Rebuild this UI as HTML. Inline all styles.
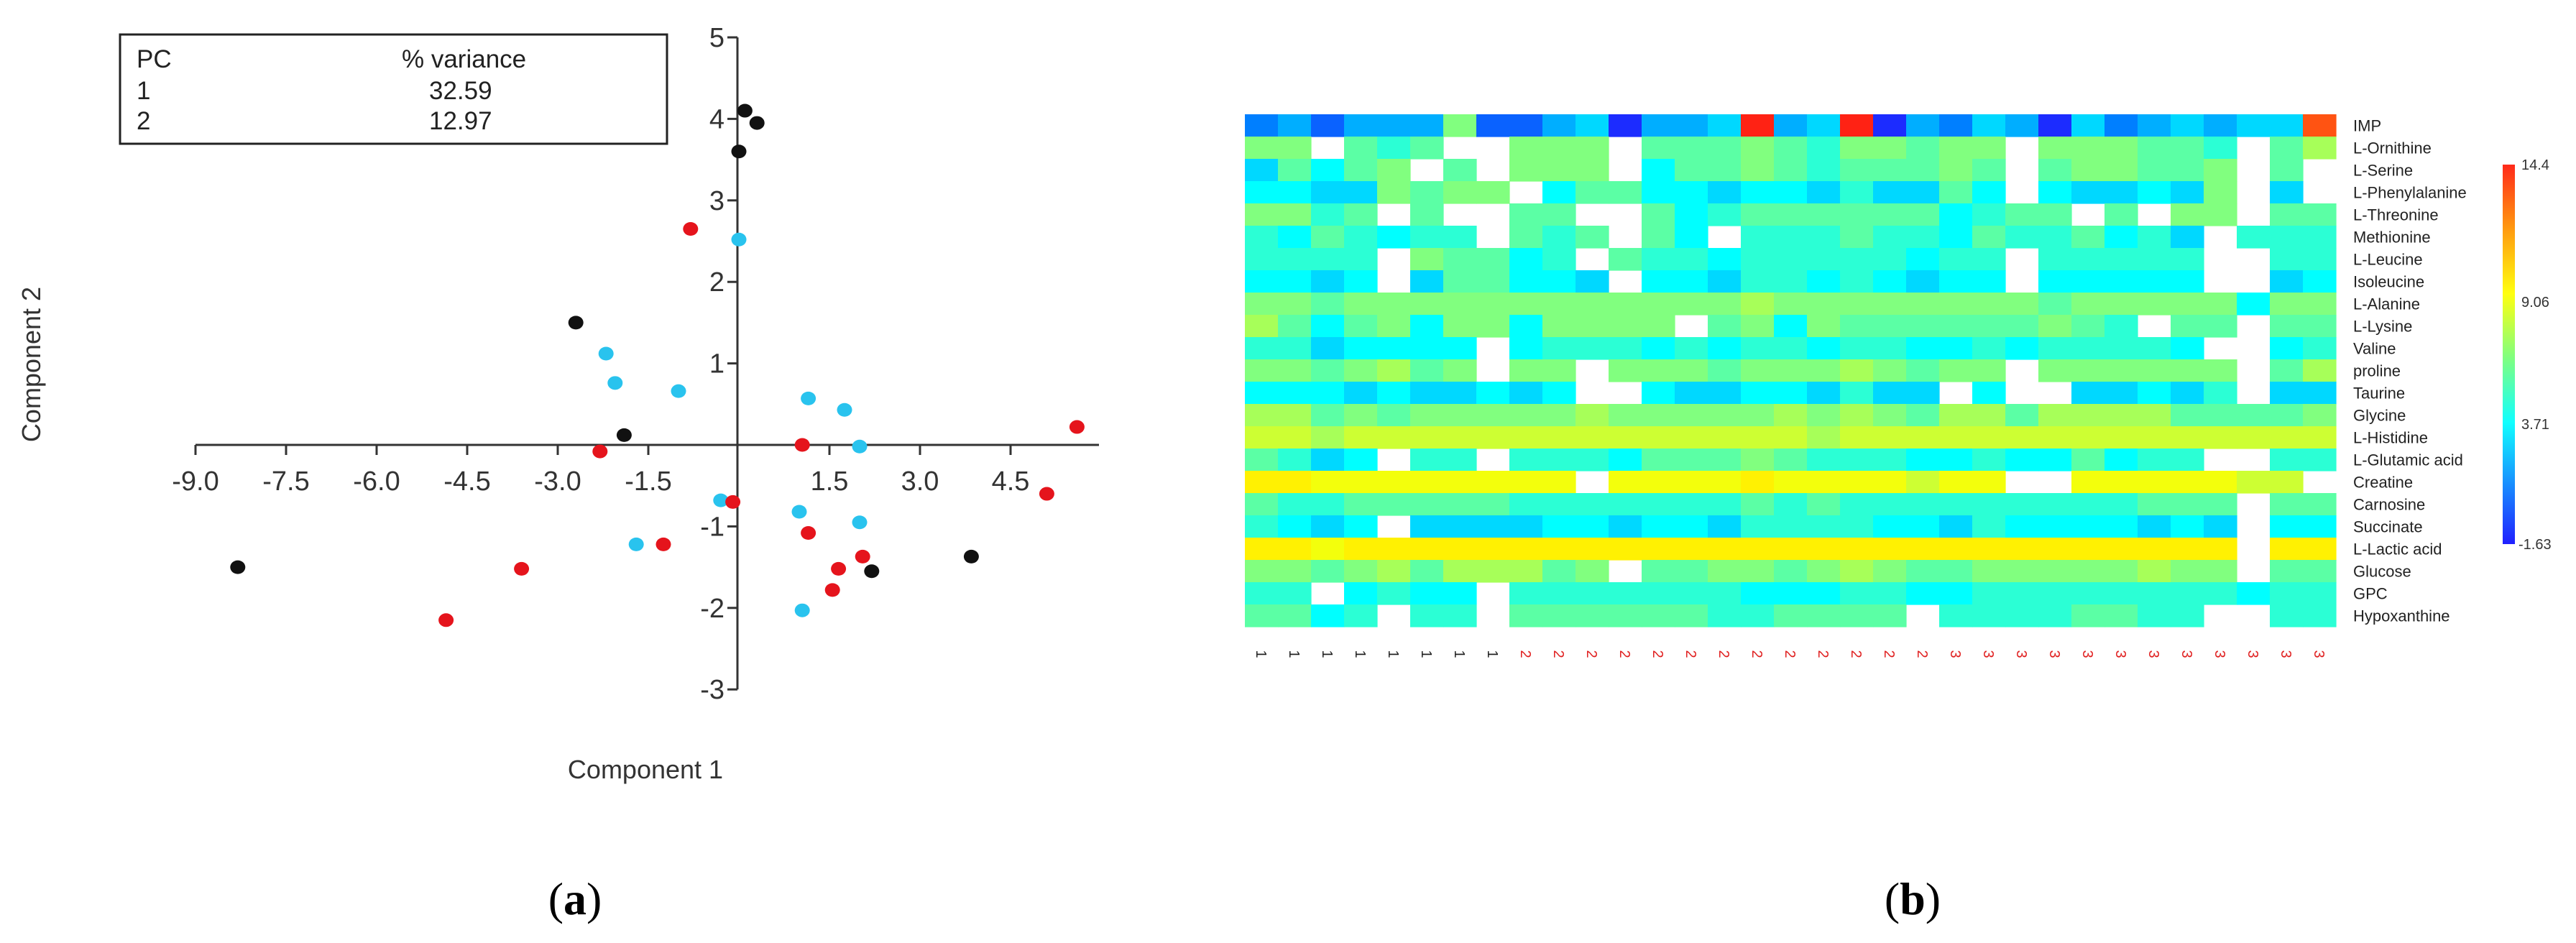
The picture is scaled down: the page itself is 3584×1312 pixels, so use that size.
<!DOCTYPE html>
<html><head><meta charset="utf-8"><style>
html,body{margin:0;padding:0;background:#fff;}
svg{display:block;font-family:"Liberation Sans",Arial,sans-serif;}
</style></head><body>
<svg id="fig" width="3584" height="1312" viewBox="0 0 3584 1312" xmlns="http://www.w3.org/2000/svg">
<g id="pca">
  <rect x="167" y="48" width="761" height="152" fill="#fff" stroke="#222" stroke-width="3"/>
  <text x="190" y="94" font-size="35" fill="#222">PC</text>
  <text x="559" y="94" font-size="35" fill="#222">% variance</text>
  <text x="190" y="138" font-size="35" fill="#222">1</text>
  <text x="597" y="138" font-size="35" fill="#222">32.59</text>
  <text x="190" y="180" font-size="35" fill="#222">2</text>
  <text x="597" y="180" font-size="35" fill="#222">12.97</text>
  <g id="pca-axes"></g>
  <g id="pca-points"></g>
  <text x="898" y="1083" font-size="36" fill="#333" text-anchor="middle">Component 1</text>
  <text transform="translate(56,507) rotate(-90)" font-size="36" fill="#333" text-anchor="middle">Component 2</text>
  <text x="800" y="1272" font-size="64" fill="#000" text-anchor="middle" font-family="Liberation Serif,serif">(<tspan font-weight="bold">a</tspan>)</text>
</g>
<g id="heat">
  <g id="heat-cells"></g>
  <g id="heat-rowlabels"></g>
  <g id="heat-collabels"></g>
  <defs><linearGradient id="cb" x1="0" y1="0" x2="0" y2="1">
    <stop offset="0" stop-color="#ff2a1a"/><stop offset="0.17" stop-color="#ff9a10"/><stop offset="0.34" stop-color="#ffff10"/>
    <stop offset="0.51" stop-color="#7fff80"/><stop offset="0.68" stop-color="#10ffff"/><stop offset="1" stop-color="#2020ff"/>
  </linearGradient></defs>
  <rect x="3482" y="229" width="17" height="528" fill="url(#cb)"/>
  <text x="3508" y="236" font-size="20" fill="#333">14.4</text>
  <text x="3508" y="427" font-size="20" fill="#333">9.06</text>
  <text x="3508" y="597" font-size="20" fill="#333">3.71</text>
  <text x="3504" y="764" font-size="20" fill="#333">-1.63</text>
  <text x="2661" y="1272" font-size="64" fill="#000" text-anchor="middle" font-family="Liberation Serif,serif">(<tspan font-weight="bold">b</tspan>)</text>
</g>
</svg>
<script>
const NS = "http://www.w3.org/2000/svg";
// ---------- PCA data ----------
const xTicks = [-9.0,-7.5,-6.0,-4.5,-3.0,-1.5,1.5,3.0,4.5];
const yTicks = [5,4,3,2,1,-1,-2,-3];
const blackX = [0.1,0.3,0,-2.7,-1.9,-8.3,2.2,3.85];
const blackY = [4.1,3.95,3.6,1.5,0.12,-1.5,-1.55,-1.37];
const redX = [-0.8,-2.3,1.05,5.6,5.1,-0.1,-1.25,1.15,-3.6,-4.85,1.65,2.05,1.55];
const redY = [2.65,-0.08,0.0,0.22,-0.6,-0.7,-1.22,-1.08,-1.52,-2.15,-1.52,-1.37,-1.78];
const blueX = [0,-2.2,-2.05,-1.0,1.15,1.75,2.0,-0.3,1.0,2.0,-1.7,1.05];
const blueY = [2.52,1.12,0.76,0.66,0.57,0.43,-0.02,-0.68,-0.82,-0.95,-1.22,-2.03];

function sx(v){ return 1028 + v*84; }
function sy(v){ return 619 - v*113.4; }
function mk(tag, attrs, parent){ const e=document.createElementNS(NS,tag); for(const k in attrs) e.setAttribute(k,attrs[k]); parent.appendChild(e); return e; }

const ax = document.getElementById('pca-axes');
let l = mk('line',{x1:sx(-9),y1:sy(0),x2:1529,y2:sy(0),stroke:'#333','stroke-width':3},ax);


l = mk('line',{x1:sx(0)-2,y1:sy(5),x2:sx(0)-2,y2:sy(-3),stroke:'#333','stroke-width':3},ax);


xTicks.forEach(v=>{
  const t = mk('line',{x1:sx(v),y1:sy(0),x2:sx(v),y2:sy(0)+14,stroke:'#333','stroke-width':3},ax);
  
  
  const tx = mk('text',{x:sx(v),y:sy(0)+63,'font-size':38,fill:'#333','text-anchor':'middle'},ax);
  tx.textContent = v.toFixed(1);
  
  
});
mk('line',{x1:sx(0)-2,y1:sy(0),x2:sx(0)-2,y2:sy(0)+14,stroke:'#333','stroke-width':3},ax);
yTicks.forEach(v=>{
  const t = mk('line',{x1:sx(0)-16,y1:sy(v),x2:sx(0)-2,y2:sy(v),stroke:'#333','stroke-width':3},ax);
  
  
  const tx = mk('text',{x:sx(0)-20,y:sy(v)+13,'font-size':38,fill:'#333','text-anchor':'end'},ax);
  tx.textContent = String(v);
  
  
});
const pg = document.getElementById('pca-points');
function drawSeries(xs, ys, color, name){
  xs.forEach((x,i)=>{
    const c = mk('ellipse',{cx:sx(x),cy:sy(ys[i]),rx:10.5,ry:9.5,fill:color},pg);
    
    
  });
}
drawSeries(blueX, blueY, '#29c3ee', 'point-group-cyan');
drawSeries(redX, redY, '#e5141c', 'point-group-red');
drawSeries(blackX, blackY, '#111', 'point-group-black');

// ---------- Heatmap data ----------
const rowNames = ["IMP","L-Ornithine","L-Serine","L-Phenylalanine","L-Threonine","Methionine","L-Leucine","Isoleucine","L-Alanine","L-Lysine","Valine","proline","Taurine","Glycine","L-Histidine","L-Glutamic acid","Creatine","Carnosine","Succinate","L-Lactic acid","Glucose","GPC","Hypoxanthine"];
const colGroups = ["1","1","1","1","1","1","1","1","2","2","2","2","2","2","2","2","2","2","2","2","2","3","3","3","3","3","3","3","3","3","3","3","3"];
const levelCodes = ["B","b","m","a","s","c","t","g","G","l","y","Y","Z","O","R"];
const levelValues = [-1.3,0.2,1.0,2.0,2.9,3.7,4.6,5.6,6.4,7.2,8.0,8.8,9.4,13.2,14.3];
const heatRows = [
"m a b a a a G b b a s B a a s R a s R B a m s a B s m a s a s s O",
"G G . g t g . . G G G . g g g G g t G G g G G . G G G g g t . g l",
"s g c g G . g . G G G . c g g G g t g g g G g . g G G g g G . g .",
"c c s s G g G G . c g g c c s c c s t s s g c . c s s c s G . s .",
"G G t g . g . . g g . . g c t g g g g g g c t g g . g . G G . g g",
"t c g t c t t . g t g . g c . t t t g t t c g t t g c t s . t t t",
"t t t t . G g g c t . g t t c t t t t t c t t . t t t t t . . t t",
"c c s c . s g g c c s . c c s t t c t c s c c . c c c c c . . s c",
"G G g G G G G G G G G G G G G l G G G G G G G G g G G G G G c G G",
"l g c g G c G G c G G G G . g G c G g g g g g g G g t . g g . g g",
"t t s c c c c . c t t t c t c t t c t t c c t c t t t t c . . c t",
"G G g G l g G . G G . G G G g G G G l G g G G . G G G G G G . g l",
"c c c s c s s c s c . . c s s c c s t s s . c . . s s c s t . s s",
"l l g G g G G G G G l G G G G G l G l G g l l g l l l l g g g g G",
"y y l y y y y y y y y y y y y y y l y y y y y y y y y y y y y y y",
"g t s c . t t . t t t c g g g G g t t t c c t c c g c t t . . t t",
"Z Z Y Y Y Y Y Y Y Y . Y Y Y Y Z Y Y Y Y y Y Y . . Y Y Y Y Y y y .",
"g t t g g g g g t t t t t t t g t g t t t t t t t t t g g g . g g",
"t c s c . s s s s c c s c c s t t t t c c s t c c c c s c s . c c",
"Z Z Y Z Z Z Z Z Z Z Z Z Z Z Z Z Z Z Z Z Z Z Z Z Z Z Z Z Z Z . Z Z",
"G G g G l g l l l g G . g g G G g G l G g g G G G G G l G G . g g",
"t t . c t c c . t t t t t t t c c c t t c c t t t t t t t t c t t",
"g g c t . t t . g g g g g g t t g g g g . t t t t g g t t . . t t"
];
const vmin = -1.63, vmax = 14.4;
function jet(v){
  const stops = [[-1.63,[32,32,255]],[1.04,[0,128,255]],[3.71,[0,255,255]],[6.38,[128,255,128]],[9.06,[255,255,0]],[11.7,[255,150,16]],[14.4,[255,30,20]]];
  v = Math.max(vmin, Math.min(vmax, v));
  for(let i=0;i<stops.length-1;i++){
    const a=stops[i], b=stops[i+1];
    if(v<=b[0]){ const t=(v-a[0])/(b[0]-a[0]); const c=a[1].map((x,k)=>Math.round(x+(b[1][k]-x)*t)); return 'rgb('+c.join(',')+')'; }
  }
  return 'rgb(255,30,20)';
}
const HX=1732, HY=159, CW=46, RH=31.0;
const hc = document.getElementById('heat-cells');
heatRows.forEach((row,r)=>{
  row.split(' ').forEach((code,c)=>{
    if(code==='.') return;
    const v = levelValues[levelCodes.indexOf(code)];
    const rc = mk('rect',{x:HX+c*CW,y:HY+r*RH,width:CW+0.6,height:RH+0.6,fill:jet(v)},hc);
    
    
  });
});
const hr = document.getElementById('heat-rowlabels');
rowNames.forEach((n,r)=>{
  const t = mk('text',{x:3274,y:HY+r*RH+RH/2+8,'font-size':22,fill:'#222'},hr);
  t.textContent = n;
  
  
});
const hcl = document.getElementById('heat-collabels');
colGroups.forEach((g,c)=>{
  const cx = HX+c*CW+CW/2;
  const t = mk('text',{transform:'translate('+(cx-7)+',910) rotate(90)','font-size':20,fill:g==='1'?'#222':'#e02020','text-anchor':'middle'},hcl);
  t.textContent = g;
  
  
});
</script>
</body></html>
